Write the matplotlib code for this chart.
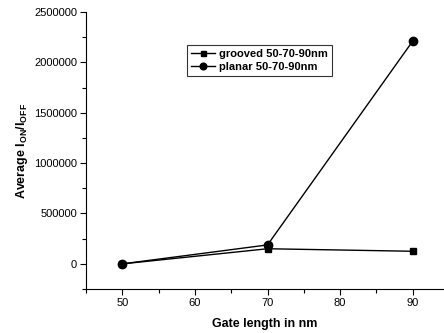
import matplotlib
matplotlib.use("Agg")
import matplotlib.pyplot as plt
from matplotlib.ticker import MultipleLocator, FormatStrFormatter

plt.rcParams['font.family'] = ['Liberation Sans', 'DejaVu Sans']

gate_length = [50, 70, 90]
grooved = [0, 150000, 125000]
planar = [0, 188000, 2210000]

fig = plt.figure(figsize=(4.44, 3.33), dpi=100)
ax = fig.add_axes([0.194, 0.132, 0.804, 0.832])

ax.plot(gate_length, grooved, color="black", lw=1, marker="s", ms=4.5, label="grooved 50-70-90nm")
ax.plot(gate_length, planar, color="black", lw=1, marker="o", ms=6, label="planar 50-70-90nm")

ax.set_xlim(45, 94.2)
ax.set_ylim(-250000, 2500000)
ax.xaxis.set_major_locator(MultipleLocator(10))
ax.xaxis.set_minor_locator(MultipleLocator(5))
ax.yaxis.set_major_locator(MultipleLocator(500000))
ax.yaxis.set_minor_locator(MultipleLocator(250000))
ax.yaxis.set_major_formatter(FormatStrFormatter("%d"))
ax.spines["top"].set_visible(False)
ax.spines["right"].set_visible(False)
ax.tick_params(which="both", direction="out", labelsize=8, width=0.8, pad=2.5)
ax.tick_params(which="major", length=4)
ax.tick_params(which="minor", length=3)

ax.set_xlabel("Gate length in nm", fontsize=9, fontweight="bold", labelpad=7)
ax.set_ylabel("Average I$_{\\mathregular{ON}}$/I$_{\\mathregular{OFF}}$", fontsize=9, fontweight="bold")
ax.yaxis.set_label_coords(-0.158, 0.5)

leg = ax.legend(loc="upper left", bbox_to_anchor=(0.283, 0.881), borderaxespad=0, fancybox=False,
                edgecolor="black", prop={"weight": "bold", "size": 8}, handlelength=2.2, borderpad=0.35,
                labelspacing=0.25, markerscale=0.8, handletextpad=0.3)
leg.get_frame().set_linewidth(0.8)

fig.savefig("out.png", dpi=100)
